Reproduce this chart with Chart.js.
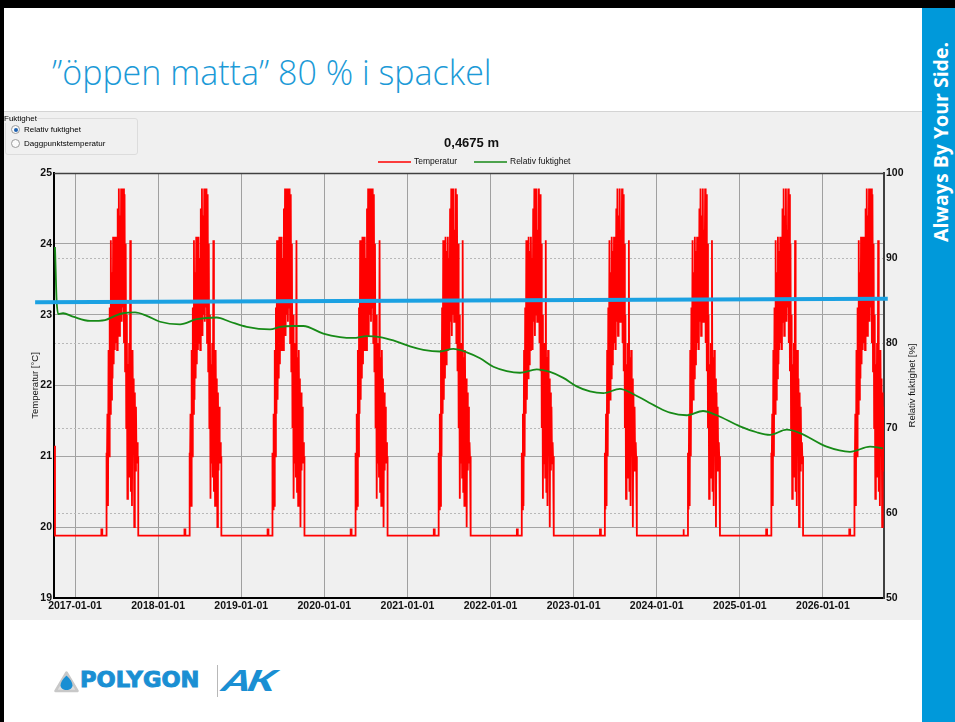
<!DOCTYPE html>
<html>
<head>
<meta charset="utf-8">
<script src="https://cdn.jsdelivr.net/npm/chart.js@4.4.0/dist/chart.umd.min.js"></script>
<style>
  body { margin: 0; width: 955px; height: 722px; overflow: hidden; background: #fff; position: relative; font-family: "Liberation Sans", Arial, sans-serif; }
  #topbar { position: absolute; left: 0; top: 0; width: 955px; height: 8px; background: #000; }
  #leftbar { position: absolute; left: 0; top: 0; width: 4px; height: 722px; background: #000; }
  #side { position: absolute; left: 922px; top: 8px; width: 33px; height: 714px; background: #0099da; }
  #side span { position: absolute; left: 18px; top: 134px; transform: translate(-50%, -50%) rotate(-90deg); white-space: nowrap;
               color: #fff; font: 700 19.5px "Open Sans", sans-serif; }
  h1 { position: absolute; left: 52px; top: 55px; margin: 0; font: 300 34px/1 "Open Sans", sans-serif; color: #1b9ad7; white-space: nowrap; }
  #panel { position: absolute; left: 4px; top: 111px; width: 918px; height: 508px; background: #f0f0f0; border-top: 1px solid #d4d4d4; }
  #chart { position: absolute; left: 4px; top: 112px; }
  #group { position: absolute; left: 5px; top: 118px; width: 131px; height: 35px; border: 1px solid #dcdcdc; border-radius: 3px; }
  #group .cap { position: absolute; left: -2px; top: -5px; font-size: 8px; background: #f0f0f0; color: #000; }
  #group .opt { position: absolute; left: 5px; font-size: 8px; color: #000; }
  #group .opt i { display: inline-block; width: 7px; height: 7px; border: 1px solid #9a9a9a; border-radius: 50%; background: #fafafa;
                  vertical-align: -2px; margin-right: 4px; position: relative; }
  #group .opt i.on::after { content: ""; position: absolute; left: 1.5px; top: 1.5px; width: 4px; height: 4px; border-radius: 50%; background: #1c60b0; }
  #logo { position: absolute; left: 52px; top: 664px; height: 34px; }
  #logo .name { position: absolute; left: 28px; top: 6px; font: 700 20.5px/1 "DejaVu Sans", sans-serif; color: #1a8fd3;
                transform: scaleX(1.1); transform-origin: left; -webkit-text-stroke: 0.9px #1a8fd3; }
  #logo .sep { position: absolute; left: 165px; top: 1px; width: 1px; height: 32px; background: #b8b8b8; }
  #logo .ak { position: absolute; left: 172px; top: 1px; font: italic 900 29px/1 Lato, sans-serif; color: #1a8fd3;
              transform: scaleX(1.45) skewX(-10deg); transform-origin: left; letter-spacing: -2px; }
</style>
</head>
<body>
<div id="topbar"></div>
<div id="leftbar"></div>
<div id="side"><span>Always By Your Side.</span></div>
<h1>”öppen matta” 80 % i spackel</h1>
<div id="panel"></div>
<canvas id="chart" width="918" height="507"></canvas>
<div id="group">
  <span class="cap">Fuktighet</span>
  <span class="opt" style="top:6px"><i class="on"></i>Relativ fuktighet</span>
  <span class="opt" style="top:20px"><i></i>Daggpunktstemperatur</span>
</div>
<div id="logo">
  <svg width="25" height="22" viewBox="0 0 25 22" style="position:absolute;left:2px;top:7px">
    <path d="M12.5 1.5 L23.5 20 L1.5 20 Z" fill="#dedede" stroke="#c8c8c8" stroke-width="2.5" stroke-linejoin="round"/>
    <path d="M12.5 4.5 C16.5 8.5 18.5 11.5 18.5 14.3 C18.5 17.4 15.8 19 12.5 19 C9.2 19 6.5 17.4 6.5 14.3 C6.5 11.5 8.5 8.5 12.5 4.5 Z" fill="#1a8fd3"/>
  </svg>
  <span class="name">POLYGON</span>
  <span class="sep"></span>
  <span class="ak">AK</span>
</div>

<script>
// Chart texts
const chartTitle = '0,4675 m';
const tempLabel = 'Temperatur';
const rhLabel = 'Relativ fuktighet';
const tempAxisTitle = 'Temperatur [°C]';
const rhAxisTitle = 'Relativ fuktighet [%]';

// x axis (decimal years), ticks on 1 January
const tickYears = [2017, 2018, 2019, 2020, 2021, 2022, 2023, 2024, 2025, 2026];
const xStart = 2016.747;
const xEnd = 2026.735;

// Temperature: heating baseline, the same summer profile repeats each simulated year
const tempBase = 19.88;
const tempFirst = 21.15;          // first value of the simulation
const blipStart = 0.317, blipEnd = 0.328, blipValue = 19.97;
const summerStart = 0.376, summerEnd = 0.761;
const summerTemp = [
  21.05, 20.25, 21.6, 20.3, 22.5, 21.0, 23.1, 21.6, 24.05, 21.8,
  23.6, 22.1, 24.1, 22.3, 23.9, 22.5, 24.1, 22.6, 23.8, 22.5,
  24.5, 22.9, 24.78, 22.7, 24.4, 23.0, 24.78, 22.9, 24.2, 23.1,
  24.78, 22.6, 24.7, 22.2, 24.0, 21.4, 23.0, 20.4, 22.3, 20.9,
  22.6, 20.7, 24.05, 20.5, 22.4, 20.3, 22.5, 21.2, 22.1, 20.0,
  21.9, 20.8, 21.7, 20.9, 21.2, 20.9, 21.0
];

// Relative humidity [%]
const rhDates = [
  2016.759, 2016.767, 2016.777, 2016.799, 2016.856, 2016.976, 2017.181, 2017.361, 2017.481, 2017.578,
  2017.722, 2017.863, 2018.023, 2018.264, 2018.464, 2018.705, 2018.865, 2019.066, 2019.347, 2019.467,
  2019.627, 2019.747, 2019.988, 2020.189, 2020.349, 2020.510, 2020.670, 2020.830, 2021.031, 2021.191,
  2021.392, 2021.552, 2021.714, 2021.874, 2022.034, 2022.195, 2022.355, 2022.556, 2022.716, 2022.876,
  2023.037, 2023.197, 2023.357, 2023.558, 2023.715, 2024.000, 2024.160, 2024.361, 2024.557, 2024.722,
  2025.002, 2025.203, 2025.363, 2025.564, 2025.724, 2026.045, 2026.326, 2026.567, 2026.723
];
const rhValues = [
  91.3, 88.6, 85.3, 83.4, 83.5, 83.1, 82.6, 82.7, 83.2, 83.5,
  83.6, 83.2, 82.5, 82.2, 82.8, 83.0, 82.5, 81.9, 81.6, 81.9,
  82.0, 82.0, 81.1, 80.7, 80.6, 80.8, 80.7, 80.3, 79.6, 79.2,
  79.0, 79.3, 78.9, 78.2, 77.2, 76.7, 76.5, 76.9, 76.6, 75.9,
  74.9, 74.3, 74.1, 74.6, 74.0, 72.5, 71.8, 71.5, 72.0, 71.5,
  70.2, 69.5, 69.2, 69.8, 69.4, 67.8, 67.2, 67.8, 67.6
];

// Hand-drawn blue marker line (read against the RH axis)
const markerDates = [2016.52, 2026.78];
const markerValues = [84.8, 85.2];

// build the temperature series
const tempPoints = [{ x: xStart + 0.01, y: tempFirst }, { x: xStart + 0.012, y: tempBase }];
const summerStep = (summerEnd - summerStart) / (summerTemp.length - 1);
tickYears.forEach(yr => {
  tempPoints.push({ x: yr + blipStart, y: tempBase }, { x: yr + blipStart, y: blipValue },
                  { x: yr + blipEnd, y: blipValue }, { x: yr + blipEnd, y: tempBase });
  tempPoints.push({ x: yr + summerStart, y: tempBase });
  summerTemp.forEach((t, i) => tempPoints.push({ x: yr + summerStart + i * summerStep, y: t }));
  tempPoints.push({ x: yr + summerEnd, y: tempBase });
});

const rhPoints = rhDates.map((d, i) => ({ x: d, y: rhValues[i] }));
const markerPoints = markerDates.map((d, i) => ({ x: d, y: markerValues[i] }));

const tickFont = { family: '"Liberation Sans", Arial, sans-serif', size: 10.5, weight: 'bold' };

// title, legend, frame and axis titles
const chartText = {
  id: 'chartText',
  afterDraw(chart) {
    const { ctx, chartArea: a } = chart;
    const cx = (a.left + a.right) / 2;
    const cy = (a.top + a.bottom) / 2;
    ctx.save();
    ctx.strokeStyle = '#404040';
    ctx.lineWidth = 1.5;
    ctx.beginPath();
    ctx.moveTo(a.left, a.top + 0.5);
    ctx.lineTo(a.right, a.top + 0.5);
    ctx.stroke();

    ctx.fillStyle = '#111';
    ctx.textBaseline = 'middle';
    ctx.textAlign = 'center';
    ctx.font = 'bold 13px "Liberation Sans", Arial, sans-serif';
    ctx.fillText(chartTitle, cx + 2.5, a.top - 30);

    // legend
    const ly = a.top - 11;
    ctx.font = '8.5px "Liberation Sans", Arial, sans-serif';
    ctx.textAlign = 'left';
    ctx.lineWidth = 1.5;
    ctx.strokeStyle = chart.data.datasets[0].borderColor;
    ctx.beginPath(); ctx.moveTo(cx - 91, ly); ctx.lineTo(cx - 58, ly); ctx.stroke();
    ctx.fillText(tempLabel, cx - 55, ly);
    ctx.strokeStyle = chart.data.datasets[1].borderColor;
    ctx.beginPath(); ctx.moveTo(cx + 5, ly); ctx.lineTo(cx + 38, ly); ctx.stroke();
    ctx.fillText(rhLabel, cx + 41, ly);

    // axis titles
    ctx.font = '9.5px "Liberation Sans", Arial, sans-serif';
    ctx.textAlign = 'center';
    ctx.save();
    ctx.translate(a.left - 19, cy);
    ctx.rotate(-Math.PI / 2);
    ctx.fillText(tempAxisTitle, 0, 0);
    ctx.restore();
    ctx.save();
    ctx.translate(a.right + 28, cy);
    ctx.rotate(-Math.PI / 2);
    ctx.fillText(rhAxisTitle, 0, 0);
    ctx.restore();
    ctx.restore();
  }
};

new Chart(document.getElementById('chart'), {
  type: 'line',
  data: {
    datasets: [
      { label: tempLabel, data: tempPoints, yAxisID: 'y', borderColor: '#ff0000', borderWidth: 1.8,
        pointRadius: 0, tension: 0, order: 3 },
      { label: rhLabel, data: rhPoints, yAxisID: 'y1', borderColor: '#178a17', borderWidth: 1.8,
        pointRadius: 0, cubicInterpolationMode: 'monotone', order: 2 },
      { label: 'marker', data: markerPoints, yAxisID: 'y1', borderColor: '#1ba1e2', borderWidth: 4,
        pointRadius: 0, clip: false, order: 1 }
    ]
  },
  options: {
    responsive: false,
    animation: false,
    devicePixelRatio: 1,
    layout: { padding: { top: 61, left: 0, right: 8, bottom: 0 } },
    plugins: { legend: { display: false }, title: { display: false }, tooltip: { enabled: false } },
    scales: {
      x: {
        type: 'linear', min: xStart, max: xEnd,
        afterBuildTicks: s => { s.ticks = tickYears.map(v => ({ value: v })); },
        afterFit: s => { s.height = 21; },
        ticks: { callback: v => v + '-01-01', font: tickFont, color: '#111', padding: 2, autoSkip: false, maxRotation: 0 },
        grid: { color: '#a0a0a0', lineWidth: 1, drawTicks: false },
        border: { color: '#000', width: 2 }
      },
      y: {
        position: 'left', min: 19, max: 25,
        afterFit: s => { s.width = 50; },
        ticks: { stepSize: 1, font: tickFont, color: '#111', padding: 2 },
        grid: { color: '#a4a4a4', lineWidth: 1, drawTicks: false },
        border: { color: '#000', width: 2 }
      },
      y1: {
        position: 'right', min: 50, max: 100,
        afterFit: s => { s.width = 30; },
        ticks: { stepSize: 10, font: tickFont, color: '#111', padding: 2 },
        grid: { color: '#b8b8b8', lineWidth: 1, drawTicks: false },
        border: { color: '#404040', width: 2, dash: [2, 2] }
      }
    }
  },
  plugins: [chartText]
});
</script>
</body>
</html>
